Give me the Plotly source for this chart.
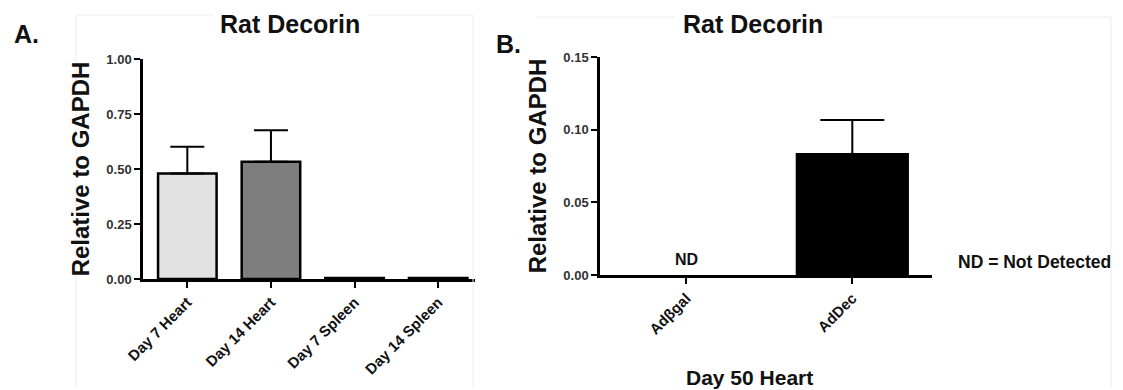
import plotly.graph_objects as go

# ---- data ----
cats_a = ["Day 7 Heart", "Day 14 Heart", "Day 7 Spleen", "Day 14 Spleen"]
vals_a = [0.48, 0.533, 0.005, 0.005]
errs_a = [0.121, 0.143, 0.0, 0.0]
fills_a = ["#e2e2e2", "#7e7e7e", "#000000", "#000000"]

cats_b = ["Ad\u03b2gal", "AdDec"]
vals_b = [None, 0.0833]   # Adβgal: not detected
errs_b = [0.0, 0.0234]
fills_b = ["#000000", "#000000"]

title_a = "Rat Decorin"
title_b = "Rat Decorin"
ytitle = "Relative to GAPDH"
xtitle_b = "Day 50 Heart"

W, H = 1123, 390
FONT = "Liberation Sans, Arial, Helvetica, sans-serif"

def px(x):
    return x / W

def py(y):
    return 1 - y / H

fig = go.Figure()

fig.add_trace(go.Bar(
    x=cats_a, y=vals_a, xaxis="x", yaxis="y",
    marker=dict(color=fills_a, line=dict(color="black", width=2.5)),
    width=0.7,
    error_y=dict(type="data", array=errs_a, arrayminus=[0] * len(errs_a),
                 symmetric=False, color="black", thickness=2, width=17),
    showlegend=False,
))

fig.add_trace(go.Bar(
    x=cats_b, y=vals_b, xaxis="x2", yaxis="y2",
    marker=dict(color=fills_b, line=dict(color="black", width=2)),
    width=0.67,
    error_y=dict(type="data", array=errs_b, arrayminus=[0] * len(errs_b),
                 symmetric=False, color="black", thickness=2, width=32),
    showlegend=False,
))

axis_common = dict(
    showline=True, linecolor="black", linewidth=2.5,
    ticks="outside", ticklen=6, tickwidth=2, tickcolor="black",
    showgrid=False, zeroline=False, automargin=False,
)

fig.update_layout(
    template="none",
    width=W, height=H,
    margin=dict(l=0, r=0, t=0, b=0, pad=0),
    paper_bgcolor="white", plot_bgcolor="white",
    font=dict(family=FONT, color="#111111"),
    xaxis=dict(domain=[px(143), px(475)], range=[-0.53, 3.44], anchor="y",
               tickangle=-45, tickfont=dict(size=15, weight="bold", color="#111"),
               **axis_common),
    yaxis=dict(domain=[py(279), py(59)], range=[0, 1.0], anchor="x",
               tickvals=[0, 0.25, 0.5, 0.75, 1.0], tickformat=".2f",
               tickfont=dict(size=13, weight="bold", color="#333"),
               title=dict(text=ytitle, font=dict(size=24, weight="bold", color="#111"),
                          standoff=10),
               **axis_common),
    xaxis2=dict(domain=[px(600), px(932)], range=[-0.52, 1.48], anchor="y2",
                tickangle=-45, tickfont=dict(size=15, weight="bold", color="#111"),
                **axis_common),
    yaxis2=dict(domain=[py(275), py(57)], range=[0, 0.15], anchor="x2",
                tickvals=[0, 0.05, 0.10, 0.15], tickformat=".2f",
                tickfont=dict(size=13, weight="bold", color="#333"),
                title=dict(text=ytitle, font=dict(size=24, weight="bold", color="#111"),
                           standoff=10),
                **axis_common),
)

ann = []
def text(x, y, s, size, xanchor="center"):
    ann.append(dict(x=px(x), y=py(y), xref="paper", yref="paper", text=s,
                    showarrow=False, xanchor=xanchor, yanchor="middle",
                    font=dict(size=size, weight="bold", color="#111", family=FONT)))

text(290, 24, title_a, 25)
text(753, 24, title_b, 25)
text(12, 34, "A.", 25, xanchor="left")
text(494, 44, "B.", 25, xanchor="left")
text(750, 377, xtitle_b, 21)
text(1113, 262, "ND = Not Detected", 17.5, xanchor="right")
ann.append(dict(x=cats_b[0], y=0.0, xref="x2", yref="y2", text="ND",
                showarrow=False, yanchor="bottom", yshift=5,
                font=dict(size=16, weight="bold", color="#111", family=FONT)))
fig.update_layout(annotations=ann)

# faint panel frames
shapes = []
def line(x0, y0, x1, y1):
    shapes.append(dict(type="line", xref="paper", yref="paper",
                       x0=px(x0), y0=py(y0), x1=px(x1), y1=py(y1),
                       line=dict(color="#eeeeee", width=1)))
line(76, 15, 214, 15)
line(368, 15, 473, 15)
line(76, 15, 76, 388)
line(473, 15, 473, 388)
line(537, 17, 675, 17)
line(830, 17, 1111, 17)
line(1111, 17, 1111, 388)
fig.update_layout(shapes=shapes)

fig.write_html(
    "out.html",
    config={"displayModeBar": False},
    post_script="document.body.style.margin='0';document.body.style.padding='0';document.body.style.overflow='hidden';",
)
